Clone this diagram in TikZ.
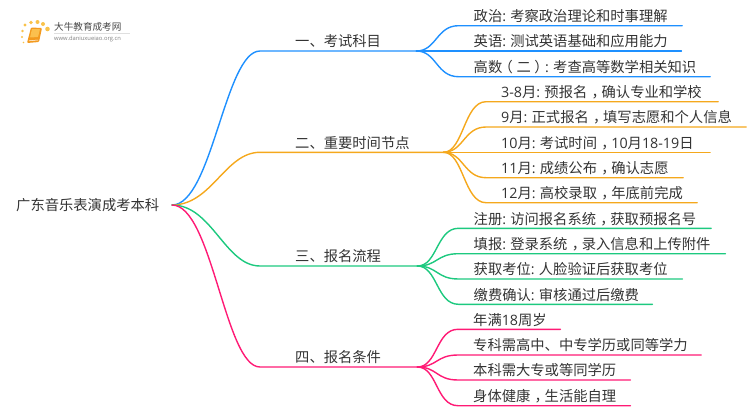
\documentclass[tikz,border=0pt]{standalone}
\usepackage{fontspec}
\setmainfont{Noto Sans CJK SC}
\newfontfamily\latf{Open Sans}
\definecolor{cblue}{HTML}{1E90FF}
\definecolor{corange}{HTML}{F5A81C}
\definecolor{cgreen}{HTML}{1DC97F}
\definecolor{cpink}{HTML}{FF1A75}
\definecolor{ctext}{HTML}{333333}
\definecolor{cbook}{HTML}{F39A1E}
\definecolor{cbookl}{HTML}{FBC04E}
\definecolor{cdot}{HTML}{F9C24A}
\tikzset{
  txt/.style={inner sep=0pt,text depth=4pt,text height=12pt,anchor=south west,align=left,font=\fontsize{14.3}{16}\selectfont,text=ctext},
  conn/.style={line width=1.4pt,line cap=round,line join=round},
  dotn/.style={circle,fill=cdot,inner sep=0pt},
}
\newcommand{\La}[1]{{\latf #1}}
\newcommand{\Cl}{{\latf :}\hspace{4.2pt}}
\newcommand{\Cm}{\hspace*{.3em}，\hspace*{-.3em}}
\newcommand{\ParL}{\hspace*{-.25em}（\hspace*{.25em}}
\newcommand{\ParR}{\hspace*{.25em}）\hspace*{-.25em}}
% name, parent, colour, text x, line end x, line y, text
\newcommand{\leafnode}[7]{%
  \pgfmathsetlengthmacro{\nodew}{(#5-#4)*1pt}%
  \node[txt,text width=\nodew] (#1) at (#4,#6) {#7};%
  \draw[conn,#3] (#2.south east) .. controls +(20,0) and ([xshift=-37pt]#1.south west) .. ([xshift=-15pt]#1.south west) -- (#1.south east);%
}
\newcommand{\branchnode}[6]{%
  \pgfmathsetlengthmacro{\nodew}{(#4-295)*1pt}%
  \node[txt,text width=\nodew] (#1) at (295,#5) {#6};%
  \draw[conn,#3] (#2) .. controls +(40,0) and ([xshift=-70pt]#1.south west) .. ([xshift=-35pt]#1.south west) -- (#1.south east);%
}
\begin{document}
\begin{tikzpicture}[x=1pt,y=-1pt]
\useasboundingbox (0,0) rectangle (750,410);
% logo
\foreach \i/\a/\b/\r in {d1/25/25/1.7,d2/31/22.5/1.9,d3/37.5/22/2,d4/43/24/2,d5/47.5/29/2.3,d6/22.5/31/1.4,d7/22/37/1.1,d8/23.5/42.5/0.9}
  \node[dotn,minimum size=2*\r pt] (\i) at (\a,\b) {};
\fill[cbook,rounded corners=1pt] (31,27.5) -- (42,28) -- (39,42) -- (27,43) -- cycle;
\fill[cbookl,rounded corners=.5pt] (32,29) -- (40,29) -- (38,37) -- (30,37.5) -- cycle;
\draw[white,line width=.5pt] (29,40.8) -- (38,40);
\draw[gray!25,line width=.4pt] (54,33) -- (130,33);
\node[inner sep=0pt,anchor=west,font=\fontsize{9.6}{10}\selectfont,text=ctext!90] (logoa) at (54,27) {大牛教育成考网};
\node[inner sep=0pt,anchor=west,font=\latf\fontsize{5.8}{6}\selectfont,text=gray] (logob) at (54,39) {www.daniuxueiao.org.cn};
% root
\node[inner sep=0pt,anchor=west,font=\fontsize{14.3}{16}\selectfont,text=ctext] (roottext) at (16,205) {广东音乐表演成考本科};
\coordinate (root) at (172,205);
% branches
\branchnode{b1}{root}{cblue}{416}{51}{一、考试科目}
\branchnode{b2}{root}{corange}{443}{152.3}{二、重要时间节点}
\branchnode{b3}{root}{cgreen}{417}{266}{三、报名流程}
\branchnode{b4}{root}{cpink}{417}{367}{四、报名条件}
% leaves
\leafnode{a1}{b1}{cblue}{473.5}{681.7}{25.7}{政治\Cl 考察政治理论和时事理解}
\leafnode{a2}{b1}{cblue}{473.5}{681}{51}{英语\Cl 测试英语基础和应用能力}
\leafnode{a3}{b1}{cblue}{473.5}{709.7}{76.7}{高数\ParL 二\ParR\Cl 考查高等数学相关知识}
\leafnode{c1}{b2}{corange}{501}{717.7}{101.7}{\La{3-8}月\Cl 预报名\Cm 确认专业和学校}
\leafnode{c2}{b2}{corange}{501}{745.7}{127}{\La{9}月\Cl 正式报名\Cm 填写志愿和个人信息}
\leafnode{c3}{b2}{corange}{501}{709.7}{152.3}{\La{10}月\Cl 考试时间\Cm \La{10}月\La{18-19}日}
\leafnode{c4}{b2}{corange}{501}{682.7}{177.7}{\La{11}月\Cl 成绩公布\Cm 确认志愿}
\leafnode{c5}{b2}{corange}{501}{696.7}{202.7}{\La{12}月\Cl 高校录取\Cm 年底前完成}
\leafnode{d1x}{b3}{cgreen}{473.5}{710.7}{228.3}{注册\Cl 访问报名系统\Cm 获取预报名号}
\leafnode{d2x}{b3}{cgreen}{473.5}{725}{253.7}{填报\Cl 登录系统\Cm 录入信息和上传附件}
\leafnode{d3x}{b3}{cgreen}{473.5}{682}{279}{获取考位\Cl 人脸验证后获取考位}
\leafnode{d4x}{b3}{cgreen}{473.5}{652}{304.3}{缴费确认\Cl 审核通过后缴费}
\leafnode{e1}{b4}{cpink}{473}{560}{329.3}{年满\La{18}周岁}
\leafnode{e2}{b4}{cpink}{473}{700.7}{355}{专科需高中、中专学历或同等学力}
\leafnode{e3}{b4}{cpink}{473}{630}{380}{本科需大专或等同学历}
\leafnode{e4}{b4}{cpink}{473}{630}{405.7}{身体健康\Cm 生活能自理}
\end{tikzpicture}
\end{document}
